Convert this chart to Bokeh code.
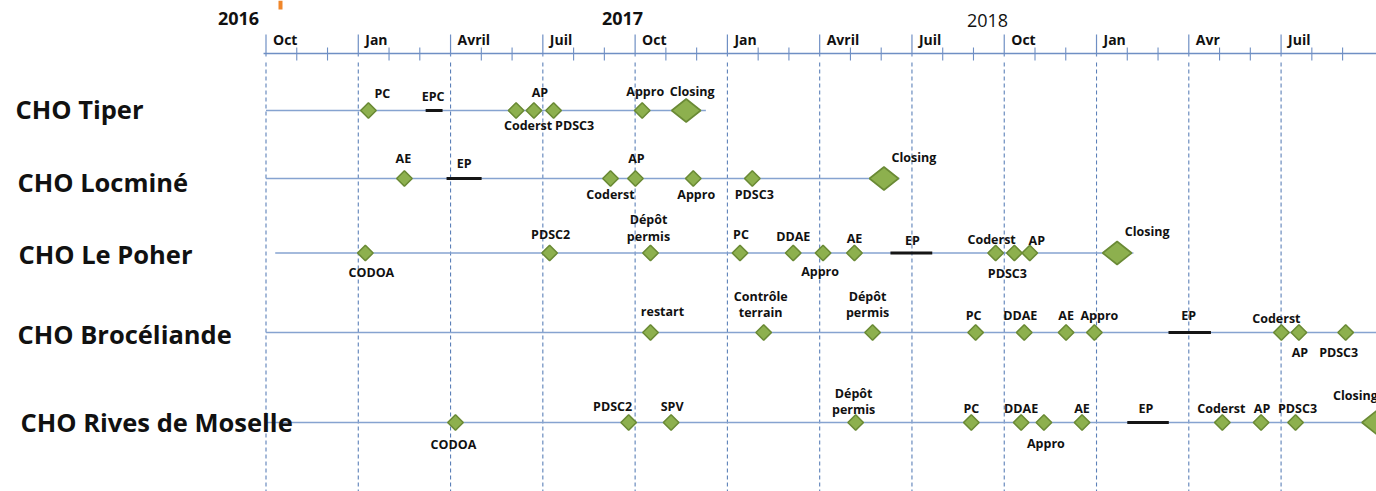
import numpy as np
from bokeh.plotting import figure
from bokeh.models import Range1d, ColumnDataSource
from bokeh.core.properties import value
from bokeh.embed import file_html
from bokeh.resources import INLINE

# ---------------- data (x = months counted from October 2016) ----------------
quarter_labels = ["Oct", "Jan", "Avril", "Juil", "Oct", "Jan", "Avril", "Juil", "Oct", "Jan", "Avr", "Juil"]
quarter_months = [0, 3, 6, 9, 12, 15, 18, 21, 24, 27, 30, 33]
year_labels = ["2016", "2017", "2018"]

projects = ["CHO Tiper", "CHO Locminé", "CHO Le Poher", "CHO Brocéliande", "CHO Rives de Moselle"]

tiper_labels = ["PC", "Coderst", "AP", "PDSC3", "Appro"]
tiper_months = [3.33, 8.13, 8.71, 9.35, 12.23]

locmine_labels = ["AE", "Coderst", "AP", "Appro", "PDSC3"]
locmine_months = [4.50, 11.20, 12.01, 13.89, 15.81]

poher_labels = ["CODOA", "PDSC2", "Dépôt\npermis", "PC", "DDAE", "Appro", "AE", "Coderst", "PDSC3", "AP"]
poher_months = [3.23, 9.22, 12.50, 15.41, 17.14, 18.11, 19.13, 23.72, 24.33, 24.83]

broc_labels = ["restart", "Contrôle\nterrain", "Dépôt\npermis", "PC", "DDAE", "AE", "Appro", "Coderst", "AP", "PDSC3"]
broc_months = [12.50, 16.18, 19.72, 23.07, 24.65, 26.01, 26.93, 33.01, 33.58, 35.10]

rives_labels = ["CODOA", "PDSC2", "SPV", "Dépôt\npermis", "PC", "DDAE", "Appro", "AE", "Coderst", "AP", "PDSC3"]
rives_months = [6.16, 11.79, 13.17, 19.17, 22.93, 24.55, 25.29, 26.53, 31.09, 32.35, 33.47]

closing_rows = [0, 1, 2, 4]
closing_labels = ["Closing", "Closing", "Closing", "Closing"]
closing_months = [13.66, 20.09, 27.67, 36.10]

ep_rows = [0, 1, 2, 3, 4]
ep_labels = ["EPC", "EP", "EP", "EP", "EP"]
ep_start = [5.19, 5.87, 20.30, 29.34, 28.00]
ep_end = [5.74, 7.01, 21.66, 30.72, 29.35]

# ---------------- layout (page pixels) ----------------
PXM = 30.76           # pixels per month
X0 = 265.5            # page x of Oct 2016
W, H = 1376, 491
x_start = -X0 / PXM
x_end = (W - X0) / PXM

row_y = [110, 178, 252.5, 332, 422]
row_label_cy = [108, 181, 253, 333, 421]
row_label_px = [15, 17, 18, 17, 20]
row_line_start = [0, 0, 0.3, 0, 0]
row_line_end = [14.3, 20.6, 28.2, 37, 37]

tiper_off = [(14, -17), (12, 15), (6, -18), (21, 15), (3, -19)]
locmine_off = [(-1, -20), (0, 16), (1, -20), (3, 16), (2, 16)]
poher_off = [(6, 19), (1, -19), (-2, -25), (1, -19), (0, -17), (-3, 18), (0, -15), (-4, -14), (-7, 20), (7, -13)]
broc_off = [(12, -21), (-3, -28), (-5, -28), (-2, -17), (-4, -17), (0, -17), (5, -17), (-5, -14), (1, 20), (-7, 20)]
rives_off = [(-2, 22), (-16, -16), (1, -16), (-2, -21), (0, -14), (0, -14), (2, 21), (0, -14), (-1, -14), (1, -14), (2, -14)]
closing_off = [(6, -19), (30, -21), (30, -22), (-21, -27)]
ep_off = [(-1, -14), (0, -15), (1, -13), (-1, -17), (-2, -14)]

year_px = [238, 622, 987]
year_py = [18, 18, 20]
year_style = ["bold", "bold", "normal"]

FONT = value("Open Sans")
AXIS_COL = "#6F8FC4"
DASH_COL = "#5C80B8"
ROW_COL = "#86A3D0"
FILL = "#8DB04E"
EDGE = "#6A8A35"
TXT = "#111111"

p = figure(width=W, height=H, x_range=Range1d(x_start, x_end), y_range=Range1d(H, 0),
           x_axis_type=None, y_axis_type=None, toolbar_location=None,
           output_backend="svg", min_border=0)
p.outline_line_color = None
p.xgrid.visible = False
p.ygrid.visible = False

# small orange mark at the very top (remnant of a header)
p.quad(left=[(278 - X0) / PXM], right=[(282 - X0) / PXM], top=[0], bottom=[9],
       fill_color="#F0862A", line_color=None)

# ---------------- top time axis ----------------
minor = [m for m in range(0, 37) if m % 3 != 0]
p.segment(x0=[-0.08], y0=[53], x1=[x_end + 1], y1=[53], line_color=AXIS_COL, line_width=1.5)
p.segment(x0=quarter_months, y0=[34] * len(quarter_months), x1=quarter_months, y1=[56] * len(quarter_months),
          line_color=AXIS_COL, line_width=1.2)
p.segment(x0=minor, y0=[47] * len(minor), x1=minor, y1=[60] * len(minor), line_color=AXIS_COL, line_width=1.1)
p.segment(x0=quarter_months, y0=[62] * len(quarter_months), x1=quarter_months, y1=[H] * len(quarter_months),
          line_color=DASH_COL, line_width=1.1, line_dash="4 3")
p.text(x=quarter_months, y=[39] * len(quarter_months), text=quarter_labels, x_offset=7,
       text_font=FONT, text_font_size="14px", text_font_style="bold", text_color=TXT,
       text_align="left", text_baseline="middle")
for lab, px, py, st in zip(year_labels, year_px, year_py, year_style):
    p.text(x=[(px - X0) / PXM], y=[py], text=[lab], text_font=FONT, text_font_size="18px",
           text_font_style=st, text_color=TXT, text_align="center", text_baseline="middle")

# ---------------- rows ----------------
p.segment(x0=row_line_start, y0=row_y, x1=row_line_end, y1=row_y, line_color=ROW_COL, line_width=1.3)
p.text(x=[(px - X0) / PXM for px in row_label_px], y=row_label_cy, text=projects,
       text_font=FONT, text_font_size="25.5px", text_font_style="bold", text_color=TXT,
       text_align="left", text_baseline="middle")

# EP bars
ep_y = [row_y[r] for r in ep_rows]
p.segment(x0=ep_start, y0=ep_y, x1=ep_end, y1=ep_y, line_color="#151515", line_width=3.2)
ep_mid = [(a + b) / 2 for a, b in zip(ep_start, ep_end)]
p.text(x=ep_mid, y=[y + o[1] for y, o in zip(ep_y, ep_off)], text=ep_labels,
       x_offset=[o[0] for o in ep_off], text_font=FONT, text_font_size="12.5px", text_font_style="bold",
       text_color=TXT, text_align="center", text_baseline="middle")

# milestones
groups = [(0, tiper_labels, tiper_months, tiper_off),
          (1, locmine_labels, locmine_months, locmine_off),
          (2, poher_labels, poher_months, poher_off),
          (3, broc_labels, broc_months, broc_off),
          (4, rives_labels, rives_months, rives_off)]
for r, labs, months, offs in groups:
    ys = [row_y[r]] * len(months)
    p.scatter(x=months, y=ys, marker="square", angle=np.pi / 4, size=11,
              fill_color=FILL, line_color=EDGE, line_width=1.6)
    src = ColumnDataSource(dict(x=months, y=[row_y[r] + o[1] for o in offs], t=labs,
                                xo=[o[0] for o in offs]))
    p.text(x="x", y="y", text="t", x_offset="xo", source=src, text_font=FONT, text_font_size="12.5px",
           text_font_style="bold", text_color=TXT, text_align="center", text_baseline="middle",
           text_line_height=0.95)

# closing (large diamonds)
hw, hh = 14.5 / PXM, 11.5
cy = [row_y[r] for r in closing_rows]
xs = [[m - hw, m, m + hw, m] for m in closing_months]
ys = [[y, y - hh, y, y + hh] for y in cy]
p.patches(xs=xs, ys=ys, fill_color=FILL, line_color=EDGE, line_width=1.6)
p.text(x=closing_months, y=[y + o[1] for y, o in zip(cy, closing_off)], text=closing_labels,
       x_offset=[o[0] for o in closing_off], text_font=FONT, text_font_size="12.5px", text_font_style="bold",
       text_color=TXT, text_align="center", text_baseline="middle")

open("out.html", "w").write(file_html(p, INLINE))
